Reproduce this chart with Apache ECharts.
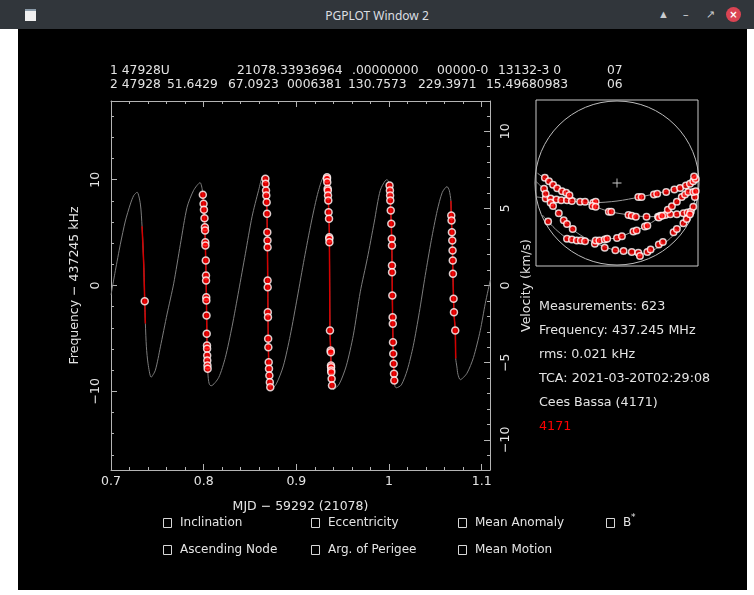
<!DOCTYPE html>
<html>
<head>
<meta charset="utf-8">
<title>PGPLOT Window 2</title>
<script src="https://cdn.jsdelivr.net/npm/echarts@6/dist/echarts.min.js"></script>
<style>
  html, body { margin: 0; padding: 0; width: 754px; height: 595px; overflow: hidden; background: #ffffff; }
  #titlebar { position: absolute; left: 0; top: 0; width: 754px; height: 29px; background: #31363b;
              color: #dcdfe2; font: 12px "Noto Sans", sans-serif; }
  #titlebar .title { position: absolute; left: 0; width: 754px; top: 7px; text-align: center; }
  #titlebar .icon { position: absolute; left: 25px; top: 9px; width: 11px; height: 10px; background: #f0f0f0; border-top: 2px solid #8a9aa8; }
  #titlebar .btn { position: absolute; top: 6px; color: #c9ccd0; font-size: 11px; }
  #titlebar .close { position: absolute; left: 726px; top: 7px; width: 15px; height: 15px; border-radius: 50%; background: #da4453;
                     color: #fff; font: bold 10px "DejaVu Sans", sans-serif; text-align: center; line-height: 15px; }
  #frame { position: absolute; left: 18px; top: 29px; width: 729px; height: 561px; background: #000000; }
  #chart { position: absolute; left: 0; top: 0; width: 754px; height: 595px; }
</style>
</head>
<body>
<div id="titlebar">
  <div class="icon"></div>
  <div class="title">PGPLOT Window 2</div>
  <div class="btn" style="left:658px;">&#9650;</div>
  <div class="btn" style="left:683px;">&#8211;</div>
  <div class="btn" style="left:706px;">&#8599;</div>
  <div class="close">&#215;</div>
</div>
<div id="frame"></div>
<div id="chart"></div>
<script>
  // --- data ---
  const tleLine1 = ['1 47928U', '21078.33936964', '.00000000', '00000-0', '13132-3 0', '07'];
  const tleLine2 = ['2 47928', '51.6429', '67.0923', '0006381', '130.7573', '229.3971', '15.49680983', '06'];
  const infoLines = ['Measurements: 623', 'Frequency: 437.245 MHz', 'rms: 0.021 kHz', 'TCA: 2021-03-20T02:29:08', 'Cees Bassa (4171)'];
  const siteLabel = '4171';
  const fitParams = [['Inclination', 'Eccentricity', 'Mean Anomaly', 'B'], ['Ascending Node', 'Arg. of Perigee', 'Mean Motion']];
  const xTitle = 'MJD \u2212 59292 (21078)';
  const yTitle = 'Frequency \u2212 437245 kHz';
  const y2Title = 'Velocity (km/s)';
  const restFreqKHz = 437245;

  // predicted doppler curve [mjd offset, kHz]
  const dopplerCurve = [
    [0.7000, -0.9], [0.7047, 1.4], [0.7101, 3.9], [0.7155, 6.1], [0.7209, 7.7], [0.7245, 8.5], [0.7282, 8.82],
    [0.7317, 7.7], [0.7335, 5.6], [0.7353, 2.05], [0.7364, -1.5], [0.7371, -3.6], [0.7382, -5.8], [0.7400, -7.4], [0.7433, -8.67],
    [0.7479, -8.0], [0.7533, -5.8], [0.7605, -2.7], [0.7676, 0.16], [0.7749, 3.9], [0.7821, 7.4], [0.7892, 9.0], [0.7962, 9.72],
    [0.7980, 9.3], [0.7990, 8.7], [0.8000, 7.6], [0.8012, 5.6], [0.8022, 2.5], [0.8030, -1.4], [0.8036, -5.5], [0.8042, -7.7],
    [0.8050, -8.8], [0.8062, -9.35], [0.8080, -9.48],
    [0.8162, -8.7], [0.8234, -6.8], [0.8306, -3.9], [0.8378, -0.5], [0.8450, 3.0], [0.8522, 6.5], [0.8593, 9.0], [0.8638, 10.3],
    [0.8655, 10.2], [0.8666, 10.0], [0.8676, 8.5], [0.8684, 6.8], [0.8690, 2.0], [0.8694, -3.0], [0.8700, -6.6], [0.8709, -8.5],
    [0.8719, -9.6], [0.8728, -9.82],
    [0.8784, -9.3], [0.8860, -7.6], [0.8935, -4.7], [0.9011, -1.1], [0.9086, 2.55], [0.9162, 6.0], [0.9237, 8.9], [0.9302, 10.35],
    [0.9320, 10.3], [0.9331, 10.2], [0.9342, 8.5], [0.9353, 6.3], [0.9357, 4.0], [0.9360, 0.0], [0.9363, -4.25], [0.9372, -6.5],
    [0.9377, -8.2], [0.9385, -9.45], [0.9400, -9.82],
    [0.9464, -9.3], [0.9539, -7.6], [0.9615, -4.7], [0.9690, -0.6], [0.9766, 2.55], [0.9841, 6.0], [0.9906, 9.0], [0.9976, 10.0],
    [0.9992, 9.9], [1.0006, 9.45], [1.0014, 8.0], [1.0025, 5.8], [1.0032, 3.0], [1.0036, -1.0], [1.0043, -5.4], [1.0050, -7.4],
    [1.0057, -9.0], [1.0065, -9.55], [1.0078, -9.67],
    [1.0133, -9.4], [1.0197, -8.0], [1.0262, -5.7], [1.0327, -2.55], [1.0391, 0.95], [1.0456, 4.25], [1.0521, 7.1], [1.0575, 8.8],
    [1.0626, 9.35], [1.0650, 9.0], [1.0668, 8.0], [1.0672, 6.6], [1.0683, 4.25], [1.0690, 1.1], [1.0701, -2.5], [1.0715, -4.3],
    [1.0720, -6.9], [1.0733, -7.7], [1.0744, -8.4], [1.0769, -8.9],
    [1.0841, -8.3], [1.0912, -6.8], [1.0985, -4.25], [1.1039, -1.7], [1.1093, 0.5]
  ];

  // parts of the curve covered by the passes (drawn red)
  const passSegments = [
    [[0.7335, 5.6], [0.7353, 2.05], [0.7364, -1.5], [0.7371, -3.6]],
    [[0.7990, 8.7], [0.8000, 7.6], [0.8012, 5.6], [0.8022, 2.5], [0.8030, -1.4], [0.8036, -5.5], [0.8042, -7.7], [0.8046, -8.3]],
    [[0.8660, 10.15], [0.8666, 10.0], [0.8676, 8.5], [0.8684, 6.8], [0.8690, 2.0], [0.8694, -3.0], [0.8700, -6.6], [0.8709, -8.5], [0.8719, -9.6]],
    [[0.9328, 10.25], [0.9331, 10.2], [0.9342, 8.5], [0.9353, 6.3], [0.9357, 4.0], [0.9360, 0.0], [0.9363, -4.25], [0.9372, -6.5], [0.9377, -8.2], [0.9385, -9.45]],
    [[1.0004, 9.55], [1.0006, 9.45], [1.0014, 8.0], [1.0025, 5.8], [1.0032, 3.0], [1.0036, -1.0], [1.0043, -5.4], [1.0050, -7.4], [1.0057, -9.0], [1.0062, -9.4]],
    [[1.0668, 8.0], [1.0672, 6.6], [1.0683, 4.25], [1.0690, 1.1], [1.0701, -2.5], [1.0715, -4.3], [1.0720, -6.9]]
  ];

  // measurements per pass [mjd offset, kHz]
  const pass1 = [[0.7364, -1.5]];
  const pass2 = [[0.7991, 8.57], [0.7999, 7.72], [0.8003, 7.16], [0.8009, 6.36], [0.8013, 5.51], [0.8015, 5.20], [0.8018, 4.09],
    [0.8019, 3.78], [0.8023, 2.36], [0.8025, 0.95], [0.8026, 0.47], [0.8028, -1.11], [0.8029, -1.42], [0.8031, -2.84],
    [0.8033, -4.57], [0.8036, -5.67], [0.8037, -5.98], [0.8038, -6.62], [0.8039, -7.09], [0.8041, -7.56], [0.8043, -7.87]];
  const pass3 = [[0.8666, 10.08], [0.8669, 9.61], [0.8673, 8.98], [0.8676, 8.51], [0.8680, 7.87], [0.8684, 6.78], [0.8687, 5.04],
    [0.8689, 4.25], [0.8690, 3.62], [0.8690, 0.47], [0.8691, -0.16], [0.8692, -2.52], [0.8694, -3.0], [0.8696, -5.04],
    [0.8698, -5.83], [0.8702, -7.25], [0.8705, -7.87], [0.8709, -8.51], [0.8714, -9.14], [0.8719, -9.61]];
  const pass4 = [[0.9331, 10.24], [0.9331, 10.08], [0.9334, 9.77], [0.9338, 9.14], [0.9340, 8.98], [0.9342, 8.51], [0.9345, 8.03],
    [0.9348, 6.93], [0.9353, 6.30], [0.9356, 4.57], [0.9356, 4.41], [0.9357, 4.09], [0.9363, -4.25], [0.9370, -6.14],
    [0.9372, -6.30], [0.9374, -7.56], [0.9375, -7.72], [0.9376, -8.03], [0.9377, -8.19], [0.9381, -8.82], [0.9385, -9.45]];
  const pass5 = [[1.0006, 9.45], [1.0010, 8.98], [1.0012, 8.51], [1.0014, 8.03], [1.0019, 7.09], [1.0025, 5.83], [1.0030, 4.41],
    [1.0032, 3.78], [1.0032, 1.89], [1.0033, 1.26], [1.0036, -0.95], [1.0039, -3.0], [1.0041, -3.62], [1.0043, -5.36],
    [1.0046, -6.46], [1.0050, -7.40], [1.0054, -8.35], [1.0057, -8.98]];
  const pass6 = [[1.0672, 6.62], [1.0675, 6.14], [1.0679, 5.04], [1.0683, 4.25], [1.0686, 3.31], [1.0688, 2.36], [1.0690, 1.10],
    [1.0697, -1.26], [1.0701, -2.52], [1.0715, -4.25]];

  // sky plot tracks, in units of the horizon radius
  const skyTrack1 = [[-0.98, -0.17], [-0.82, -0.19], [-0.57, -0.22], [-0.29, -0.24], [0.0, -0.22], [0.28, -0.17], [0.56, -0.11], [0.81, -0.035], [0.97, 0.05]];
  const skyTrack2 = [[-0.97, 0.12], [-0.78, -0.02], [-0.61, -0.13], [-0.45, -0.22], [-0.29, -0.28], [-0.085, -0.35], [0.16, -0.39], [0.36, -0.41], [0.56, -0.41], [0.77, -0.37], [0.94, -0.33]];
  const skyTrack3 = [[-0.99, 0.02], [-0.91, -0.06], [-0.82, -0.22], [-0.72, -0.37], [-0.61, -0.49], [-0.51, -0.59], [-0.37, -0.68], [-0.25, -0.74], [-0.02, -0.82], [0.28, -0.87], [0.44, -0.82], [0.61, -0.71], [0.77, -0.545], [0.89, -0.37], [0.97, -0.15]];
  const skyTrack4 = [[-0.91, -0.39], [-0.84, -0.47], [-0.72, -0.59], [-0.59, -0.68], [-0.37, -0.70], [-0.13, -0.68], [0.0, -0.67], [0.20, -0.59], [0.34, -0.53], [0.50, -0.43], [0.65, -0.31], [0.81, -0.15], [0.97, -0.085]];
  const skyPoints1 = [[-0.87, -0.19], [-0.81, -0.19], [-0.74, -0.20], [-0.68, -0.21], [-0.61, -0.21], [-0.55, -0.22], [-0.45, -0.23], [-0.39, -0.23],
    [-0.29, -0.24], [-0.26, -0.23], [0.26, -0.17], [0.30, -0.17], [0.45, -0.14], [0.49, -0.13], [0.60, -0.11], [0.70, -0.08], [0.77, -0.06],
    [0.84, -0.03], [0.89, -0.01], [0.93, 0.02], [0.96, 0.05], [0.94, 0.08]];
  const skyPoints2 = [[-0.88, 0.065], [-0.83, 0.02], [-0.78, -0.02], [-0.73, -0.065], [-0.67, -0.10], [-0.62, -0.12], [-0.58, -0.15], [-0.30, -0.28],
    [-0.26, -0.29], [-0.10, -0.35], [-0.07, -0.35], [0.14, -0.39], [0.18, -0.40], [0.23, -0.41], [0.36, -0.41], [0.50, -0.41], [0.53, -0.40],
    [0.59, -0.39], [0.65, -0.38], [0.73, -0.38], [0.81, -0.37], [0.86, -0.36], [0.90, -0.35]];
  const skyPoints3 = [[-0.89, -0.07], [-0.87, -0.13], [-0.81, -0.24], [-0.78, -0.28], [-0.71, -0.37], [-0.65, -0.455], [-0.61, -0.50], [-0.54, -0.56],
    [-0.27, -0.74], [-0.15, -0.79], [-0.02, -0.82], [0.08, -0.83], [0.18, -0.84], [0.26, -0.85], [0.28, -0.89], [0.37, -0.84], [0.41, -0.81],
    [0.51, -0.75], [0.56, -0.72], [0.69, -0.60], [0.73, -0.56], [0.81, -0.49], [0.85, -0.44], [0.89, -0.38], [0.93, -0.29], [0.95, -0.17]];
  const skyPoints4 = [[-0.84, -0.47], [-0.61, -0.68], [-0.55, -0.69], [-0.49, -0.70], [-0.44, -0.70], [-0.39, -0.71], [-0.26, -0.70], [-0.215, -0.70],
    [-0.15, -0.69], [-0.12, -0.68], [0.0, -0.67], [0.06, -0.65], [0.20, -0.59], [0.24, -0.58], [0.34, -0.53], [0.37, -0.52], [0.51, -0.42],
    [0.55, -0.40], [0.62, -0.325], [0.67, -0.285], [0.73, -0.23], [0.79, -0.17], [0.83, -0.14], [0.87, -0.11], [0.93, -0.11], [0.96, -0.10]];

  // --- layout / style ---
  const FONT = 'DejaVu Sans';
  const AXIS = '#b4b4b4';
  const TEXT = '#e4e4e4';
  const CURVE = '#7c7c7c';
  const FIT_RED = '#d40000';
  const fMax = 17.44;
  const vMax = fMax * 299792.458 / restFreqKHz;
  const minus = v => String(v).replace('-', '\u2212');

  function xAx(pos, major) {
    const labels = major && pos === 'bottom';
    return {
      type: 'value', gridIndex: 0, position: pos, min: 0.7, max: 1.109, interval: major ? 0.1 : 0.02,
      axisLine: { show: major, onZero: false, lineStyle: { color: AXIS, width: 1 } },
      axisTick: { show: true, inside: true, length: major ? 6 : 3, lineStyle: { color: AXIS } },
      axisLabel: { show: labels, color: TEXT, fontFamily: FONT, fontSize: 12.5, margin: 5, showMaxLabel: false },
      splitLine: { show: false },
      name: labels ? xTitle : '', nameLocation: 'middle', nameGap: 30,
      nameTextStyle: { color: TEXT, fontFamily: FONT, fontSize: 12.5 }
    };
  }
  function yAx(pos, major, lim, step, name, gap) {
    return {
      type: 'value', gridIndex: 0, position: pos, min: -lim, max: lim, minInterval: step, maxInterval: step,
      axisLine: { show: major, onZero: false, lineStyle: { color: AXIS, width: 1 } },
      axisTick: { show: true, inside: true, length: major ? 6 : 3, lineStyle: { color: AXIS } },
      axisLabel: { show: major, rotate: 90, color: TEXT, fontFamily: FONT, fontSize: 12.5, margin: 9,
                   showMinLabel: false, showMaxLabel: false, formatter: minus },
      splitLine: { show: false },
      name: major ? name : '', nameLocation: 'middle', nameRotate: 90, nameGap: gap,
      nameTextStyle: { color: TEXT, fontFamily: FONT, fontSize: 12.5 }
    };
  }

  const marker = { color: '#ff0000', borderColor: '#ffffff', borderWidth: 1.5 };

  const series = [
    { type: 'line', xAxisIndex: 0, yAxisIndex: 0, data: dopplerCurve, showSymbol: false, smooth: 0.25,
      lineStyle: { color: CURVE, width: 1 }, silent: true, z: 2 }
  ];
  passSegments.forEach(seg => series.push({
    type: 'line', xAxisIndex: 0, yAxisIndex: 0, data: seg, showSymbol: false, smooth: 0.25,
    lineStyle: { color: FIT_RED, width: 1.5 }, silent: true, z: 3
  }));
  series.push({
    type: 'scatter', xAxisIndex: 0, yAxisIndex: 0, data: [].concat(pass1, pass2, pass3, pass4, pass5, pass6),
    symbolSize: 7, itemStyle: marker, silent: true, z: 4
  });
  [skyTrack1, skyTrack2, skyTrack3, skyTrack4].forEach(tr => series.push({
    type: 'line', xAxisIndex: 4, yAxisIndex: 4, data: tr, showSymbol: false, smooth: 0.3,
    lineStyle: { color: '#9a9a9a', width: 1 }, silent: true, z: 2
  }));
  series.push({
    type: 'scatter', xAxisIndex: 4, yAxisIndex: 4, data: [].concat(skyPoints1, skyPoints2, skyPoints3, skyPoints4),
    symbolSize: 6.5, itemStyle: marker, silent: true, z: 4
  });
  series.push({
    type: 'scatter', xAxisIndex: 4, yAxisIndex: 4, data: [[0, 0]],
    symbol: 'path://M4.5,0H5.5V4.5H10V5.5H5.5V10H4.5V5.5H0V4.5H4.5Z', symbolSize: 9,
    itemStyle: { color: '#ffffff' }, silent: true, z: 5
  });

  // --- texts ---
  const graphics = [];
  const txt = (x, y, t, size, fill) => ({
    type: 'text', x: x, y: y, silent: true,
    style: { text: t, fill: fill || TEXT, font: size + 'px "' + FONT + '"', verticalAlign: 'middle' }
  });
  const tleX1 = [110, 237, 352, 437, 498, 607];
  const tleX2 = [110, 167, 228, 287, 348, 418, 486, 607];
  tleLine1.forEach((t, i) => graphics.push(txt(tleX1[i], 71, t, 12.3)));
  tleLine2.forEach((t, i) => graphics.push(txt(tleX2[i], 85, t, 12.3)));
  infoLines.forEach((t, i) => graphics.push(txt(539, 307 + 24 * i, t, 12.7)));
  graphics.push(txt(539, 307 + 24 * 5, siteLabel, 12.7, '#ff0000'));

  const boxX = [163, 311, 458, 606];
  const rowY = [523, 550];
  fitParams.forEach((row, r) => row.forEach((t, c) => {
    graphics.push({ type: 'rect', silent: true, shape: { x: boxX[c] + 0.5, y: rowY[r] - 4.5, width: 8, height: 9 },
                    style: { fill: 'none', stroke: '#d8d8d8', lineWidth: 1 } });
    graphics.push(txt(boxX[c] + 17, rowY[r], t, 12));
  }));
  graphics.push(txt(631, rowY[0] - 5, '*', 9));

  const chart = echarts.init(document.getElementById('chart'), null, { renderer: 'canvas' });
  chart.setOption({
    backgroundColor: 'transparent',
    animation: false,
    textStyle: { fontFamily: FONT },
    grid: [
      { left: 111, top: 101, width: 379, height: 369 },
      { left: 536, top: 100, width: 162, height: 166, show: true, borderColor: '#c8c8c8', borderWidth: 1, backgroundColor: 'transparent' }
    ],
    polar: { center: [617, 183], radius: 82 },
    angleAxis: { type: 'value', min: 0, max: 360, axisLine: { lineStyle: { color: '#bdbdbd', width: 1 } },
                 axisTick: { show: false }, axisLabel: { show: false }, splitLine: { show: false } },
    radiusAxis: { type: 'value', min: 0, max: 1, show: false },
    xAxis: [
      xAx('bottom', true), xAx('bottom', false), xAx('top', true), xAx('top', false),
      { type: 'value', gridIndex: 1, min: -0.988, max: 0.988, show: false }
    ],
    yAxis: [
      yAx('left', true, fMax, 10, yTitle, 26), yAx('left', false, fMax, 2, '', 0),
      yAx('right', true, vMax, 5, y2Title, 24), yAx('right', false, vMax, 1, '', 0),
      { type: 'value', gridIndex: 1, min: -1.012, max: 1.012, show: false }
    ],
    series: series,
    graphic: graphics
  });
</script>
</body>
</html>
